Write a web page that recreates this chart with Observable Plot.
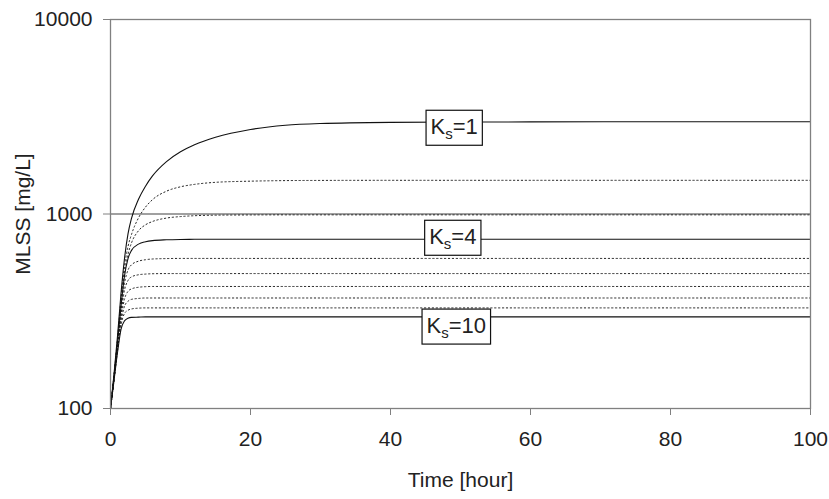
<!DOCTYPE html>
<html><head><meta charset="utf-8">
<script src="https://cdn.jsdelivr.net/npm/d3@7"></script>
<script src="https://cdn.jsdelivr.net/npm/@observablehq/plot@0.6"></script>
<style>
body{margin:0;background:#fff;}
svg{font-family:"Liberation Sans",Arial,sans-serif;}
</style>
</head><body><div id="chart"></div>
<script>
// time points (hour)
const times = [0, 0.5, 1, 1.5, 2, 2.5, 3, 4, 5, 6, 8, 10, 12, 15, 20, 25, 30, 40, 50, 60, 80, 100];
// MLSS [mg/L] for each Ks
const ks1  = [100, 150, 235, 390, 590, 790, 950, 1190, 1390, 1570, 1860, 2090, 2270, 2480, 2720, 2860, 2920, 2960, 2970, 2975, 2980, 2980];
const ks2  = [100, 148, 228, 370, 540, 680, 785, 955, 1085, 1185, 1310, 1380, 1420, 1455, 1475, 1485, 1488, 1490, 1490, 1490, 1490, 1490];
const ks3  = [100, 146, 222, 350, 500, 620, 710, 820, 880, 915, 953, 970, 980, 986, 989, 990, 990, 990, 990, 990, 990, 990];
const ks4  = [100, 145, 218, 335, 480, 590, 650, 700, 720, 730, 737, 740, 741, 741, 741, 741, 741, 741, 741, 741, 741, 741];
const ks5  = [100, 144, 214, 320, 440, 515, 548, 572, 582, 587, 590, 591, 591, 591, 591, 591, 591, 591, 591, 591, 591, 591];
const ks6  = [100, 143, 210, 305, 405, 455, 475, 487, 491, 493, 494, 494, 494, 494, 494, 494, 494, 494, 494, 494, 494, 494];
const ks7  = [100, 142, 206, 292, 365, 400, 412, 420, 423, 424, 424, 424, 424, 424, 424, 424, 424, 424, 424, 424, 424, 424];
const ks8  = [100, 141, 202, 280, 335, 356, 364, 368, 370, 370, 370, 370, 370, 370, 370, 370, 370, 370, 370, 370, 370, 370];
const ks9  = [100, 140, 198, 268, 308, 320, 325, 328, 329, 329, 329, 329, 329, 329, 329, 329, 329, 329, 329, 329, 329, 329];
const ks10 = [100, 139, 194, 255, 282, 291, 294, 295, 296, 296, 296, 296, 296, 296, 296, 296, 296, 296, 296, 296, 296, 296];

const ksValues = [1, 2, 3, 4, 5, 6, 7, 8, 9, 10];
const solidKs = [1, 4, 10];

// curve labels
const labelKs = [1, 4, 10];
const labelT = [49.1, 48.9, 49.4];
const labelY = [2810, 764, 267];

const xTicks = [0, 20, 40, 60, 80, 100];
const yTicks = [100, 1000, 10000];
const gridY = [1000];

const series = [ks1, ks2, ks3, ks4, ks5, ks6, ks7, ks8, ks9, ks10];
const rows = series.flatMap((vals, i) => times.map((t, j) => ({ks: ksValues[i], t, v: vals[j]})));
const solidRows = rows.filter(r => solidKs.includes(r.ks));
const dottedRows = rows.filter(r => !solidKs.includes(r.ks));
const labels = labelKs.map((k, i) => ({t: labelT[i], v: labelY[i], label: "Ks=" + k}));

const plot = Plot.plot({
  width: 829, height: 499,
  marginLeft: 110, marginRight: 19, marginTop: 19, marginBottom: 91,
  style: {fontFamily: '"Liberation Sans", Arial, sans-serif', fontSize: "21px", background: "white", color: "#222"},
  x: {domain: [0, 100]},
  y: {type: "log", domain: [100, 10000]},
  marks: [
    Plot.ruleY(gridY, {stroke: "#808080", strokeWidth: 1.5}),
    Plot.line(dottedRows, {x: "t", y: "v", z: "ks", stroke: "#222", strokeWidth: 1, strokeDasharray: "1.3,2.6", curve: "monotone-x"}),
    Plot.line(solidRows, {x: "t", y: "v", z: "ks", stroke: "#111", strokeWidth: 1.1, curve: "monotone-x"}),
    Plot.frame({stroke: "#808080", strokeWidth: 1.3}),
    Plot.axisX({ticks: xTicks, tickSize: 7, tickPadding: 16, stroke: "#808080", label: "Time [hour]", labelAnchor: "center", labelOffset: 78, labelArrow: "none"}),
    Plot.axisY({ticks: yTicks, tickFormat: d3.format("d"), tickSize: 7, tickPadding: 11, stroke: "#808080", label: "MLSS [mg/L]", labelAnchor: "center", labelOffset: 95, labelArrow: "none"}),
    Plot.text(labels, {x: "t", y: "v", text: "label", fontSize: 22, fill: "#222"})
  ]
});
document.getElementById("chart").append(plot);

const svg = plot.tagName.toLowerCase() === "svg" ? plot : plot.querySelector("svg");
const ns = "http://www.w3.org/2000/svg";
svg.querySelectorAll("text").forEach(el => {
  const m = /^Ks=(\d+)$/.exec(el.textContent.trim());
  if (!m) return;
  el.textContent = "";
  const a = document.createElementNS(ns, "tspan"); a.textContent = "K";
  const b = document.createElementNS(ns, "tspan"); b.textContent = "s"; b.setAttribute("font-size", "15"); b.setAttribute("dy", "5");
  const c = document.createElementNS(ns, "tspan"); c.textContent = "=" + m[1]; c.setAttribute("dy", "-5");
  el.append(a, b, c);
  const bb = el.getBBox();
  const r = document.createElementNS(ns, "rect");
  const padX = 4.5, padY = 3.5;
  r.setAttribute("x", bb.x - padX);
  r.setAttribute("y", bb.y - padY);
  r.setAttribute("width", bb.width + 2 * padX);
  r.setAttribute("height", bb.height + 2 * padY);
  r.setAttribute("fill", "white");
  r.setAttribute("stroke", "#111");
  r.setAttribute("stroke-width", "1.2");
  if (el.getAttribute("transform")) r.setAttribute("transform", el.getAttribute("transform"));
  el.parentNode.insertBefore(r, el);
});
</script>
</body></html>
